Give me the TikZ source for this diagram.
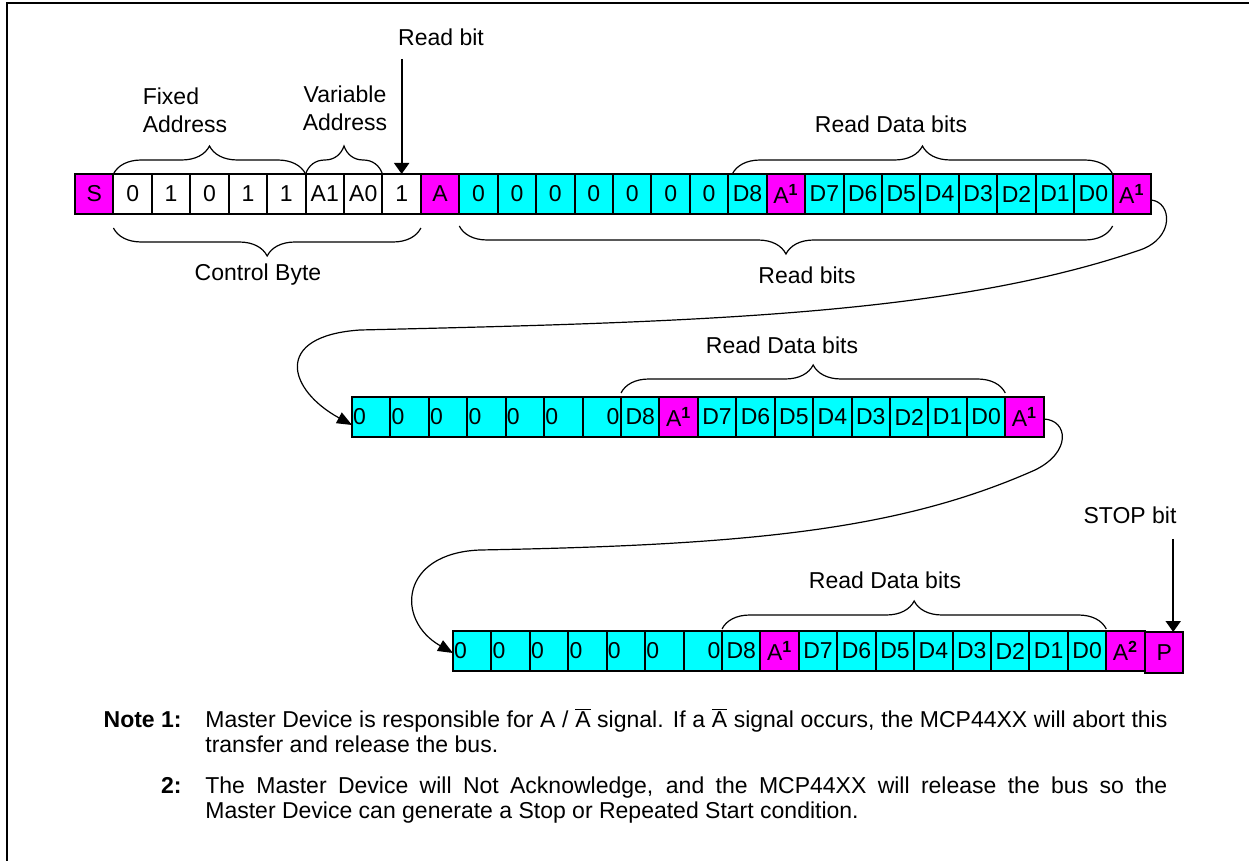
\documentclass[tikz,border=0pt]{standalone}
\usepackage{fontspec}
\setmainfont{Liberation Sans}
\usetikzlibrary{arrows.meta,decorations.pathreplacing,positioning}
\definecolor{AckPink}{HTML}{FF00FF}
\definecolor{DataCyan}{HTML}{00FFFF}
\newcommand{\acksup}[1]{A\textsuperscript{\textbf{#1}}}
\newcommand{\nackbar}{\smash{$\overline{\mbox{A}}$}}
\tikzset{
  bitcell/.style={
    draw, line width=1pt, minimum width=19.215pt, minimum height=20pt,
    inner sep=0pt, outer sep=0pt, font=\fontsize{11.5}{14}\selectfont
  },
  zerol/.style={bitcell, fill=DataCyan, text width=18pt, align=left},
  zeror/.style={bitcell, fill=DataCyan, text width=17.6pt, align=right},
  desc/.style={font=\fontsize{11.5}{14}\selectfont, align=center, inner sep=0pt},
  bracetop/.style={decorate, decoration={brace, amplitude=14pt}, line width=0.6pt},
  pointer/.style={-{Triangle[length=5.5pt,width=7.5pt]}, line width=1pt},
  wrap/.style={-{Triangle[length=7.5pt,width=6pt]}, line width=0.6pt},
  notehead/.style={font=\fontsize{11.5}{12.5}\selectfont\bfseries, inner sep=0pt},
  notebody/.style={font=\fontsize{11.5}{12.5}\selectfont, text width=481pt, align=justify, inner sep=0pt}
}
\begin{document}
\begin{tikzpicture}[x=0.5pt, y=-0.5pt]
\useasboundingbox (0,0) rectangle (1249,861);
% frame
\draw[line width=1pt] (7,861) -- (7,3) -- (1249,3);

% first row: control byte and first data byte
\foreach \txt/\col [count=\i] in {S/AckPink, 0/white, 1/white, 0/white, 1/white, 1/white, A1/white, A0/white, 1/white, A/AckPink,
    0/DataCyan, 0/DataCyan, 0/DataCyan, 0/DataCyan, 0/DataCyan, 0/DataCyan, 0/DataCyan,
    D8/DataCyan, \acksup{1}/AckPink, D7/DataCyan, D6/DataCyan, D5/DataCyan, D4/DataCyan,
    D3/DataCyan, D2/DataCyan, D1/DataCyan, D0/DataCyan, \acksup{1}/AckPink}
  \node[bitcell, fill=\col] (a\i) at ({75+(\i-0.5)*38.43}, 194) {\txt};

% second row
\foreach \i in {1,...,6}
  \node[zerol] (b\i) at ({352+(\i-0.5)*38.43}, 417) {0};
\node[zeror] (b7) at ({352+6.5*38.43}, 417) {0};
\foreach \txt/\col [count=\i from 8] in {D8/DataCyan, \acksup{1}/AckPink, D7/DataCyan, D6/DataCyan, D5/DataCyan,
    D4/DataCyan, D3/DataCyan, D2/DataCyan, D1/DataCyan, D0/DataCyan, \acksup{1}/AckPink}
  \node[bitcell, fill=\col] (b\i) at ({352+(\i-0.5)*38.43}, 417) {\txt};

% third row
\foreach \i in {1,...,6}
  \node[zerol] (c\i) at ({453+(\i-0.5)*38.43}, 651) {0};
\node[zeror] (c7) at ({453+6.5*38.43}, 651) {0};
\foreach \txt/\col [count=\i from 8] in {D8/DataCyan, \acksup{1}/AckPink, D7/DataCyan, D6/DataCyan, D5/DataCyan,
    D4/DataCyan, D3/DataCyan, D2/DataCyan, D1/DataCyan, D0/DataCyan, \acksup{2}/AckPink}
  \node[bitcell, fill=\col] (c\i) at ({453+(\i-0.5)*38.43}, 651) {\txt};
\node[bitcell, fill=AckPink, minimum height=20.5pt] (pbit) at ({1145+19.2}, 652.5) {P};

% braces
\draw[bracetop] (a2.north west) -- (a6.north east);
\draw[bracetop] (a7.north west) -- (a8.north east);
\draw[bracetop, decoration={raise=7pt}] (a9.south east) -- (a2.south west);
\draw[bracetop] ([xshift=2pt]a18.north west) -- (a27.north east);
\draw[bracetop, decoration={raise=6pt}] (a27.south east) -- (a11.south west);
\draw[bracetop, decoration={raise=2pt}] (b8.north west) -- (b17.north east);
\draw[bracetop, decoration={raise=1pt}] (c8.north west) -- (c17.north east);

% labels
\node[desc] (rdlbl) at (441,37) {Read bit};
\node[desc, align=left] (fixlbl) at (185,110) {Fixed\\Address};
\node[desc] (varlbl) at (345,108) {Variable\\Address};
\node[desc] (ctllbl) at (258,275) {Control Byte};
\node[desc] (rdbitslbl) at (807,275) {Read bits};
\node[desc] (data1lbl) at (891,124) {Read Data bits};
\node[desc] (data2lbl) at (782,345) {Read Data bits};
\node[desc] (data3lbl) at (885,580) {Read Data bits};
\node[desc] (stoplbl) at (1130,515) {STOP bit};

% arrows
\draw[pointer] (a9.north |- rdlbl.south) ++(0,13) -- (a9.north);
\draw[pointer] ([xshift=4.5pt]pbit.north |- stoplbl.south) ++(0,15) -- ([xshift=4.5pt]pbit.north);
\draw[wrap] ([yshift=-3pt]a28.east) .. controls (1172,202) and (1175,238) .. (1140,250)
  .. controls (950,315) and (700,322) .. (360,330)
  .. controls (272,336) and (288,390) .. ([yshift=-4pt]b1.west);
\draw[wrap] ([yshift=-1pt]b18.east) .. controls (1068,420) and (1072,452) .. (1035,470)
  .. controls (900,530) and (750,545) .. (480,550)
  .. controls (400,553) and (395,620) .. ([yshift=-1pt]c1.west);

% notes
\node[notehead, anchor=north east] (n1) at (182,710) {\strut Note 1:};
\node[notebody, anchor=north west] (t1) at (205,710) {\strut Master Device is responsible for A / \nackbar{} signal. If a \nackbar{} signal occurs, the MCP44XX will abort this\linebreak transfer and release the bus.};
\node[notehead, anchor=north east] (n2) at (182,776) {\strut 2:};
\node[notebody, anchor=north west] (t2) at (205,776) {\strut The Master Device will Not Acknowledge, and the MCP44XX will release the bus so the\linebreak Master Device can generate a Stop or Repeated Start condition.};
\end{tikzpicture}
\end{document}
